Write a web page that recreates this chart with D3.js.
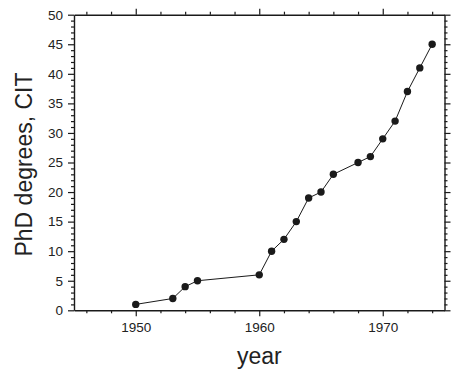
<!DOCTYPE html>
<html><head><meta charset="utf-8">
<script src="https://cdn.jsdelivr.net/npm/d3@7"></script>
<style>body{margin:0;background:#fff}svg{display:block}text{font-family:"Liberation Sans",Arial,sans-serif;fill:#222}</style>
</head><body><svg id="c" width="463" height="377"></svg>
<script>
const years = [1950,1953,1954,1955,1960,1961,1962,1963,1964,1965,1966,1968,1969,1970,1971,1972,1973,1974];
const degrees = [1,2,4,5,6,10,12,15,19,20,23,25,26,29,32,37,41,45];
const xTickLabels = [1950,1960,1970];
const yTickLabels = [0,5,10,15,20,25,30,35,40,45,50];
const xTitle = "year", yTitle = "PhD degrees, CIT";

const svg = d3.select("#c");
const L=74, R=444.5, T=14.7, B=310.3;
const x = d3.scaleLinear().domain([1945,1975]).range([L,R]);
const y = d3.scaleLinear().domain([0,50]).range([B,T]);
const col="#1a1a1a";

function minorX(){ return d3.range(1946,1975,2).filter(v=>v%10!==0); }
function minorY(){ return d3.range(0,51,1).filter(v=>v%5!==0); }

// bottom axis
const gb = svg.append("g").attr("transform",`translate(0,${B})`);
gb.call(d3.axisBottom(x).tickValues(xTickLabels).tickFormat(d3.format("d")).tickSize(6).tickSizeOuter(0).tickPadding(6));
gb.append("g").call(d3.axisBottom(x).tickValues(minorX()).tickFormat("").tickSize(3).tickSizeOuter(0)).select(".domain").remove();
// top axis
const gt = svg.append("g").attr("transform",`translate(0,${T})`);
gt.call(d3.axisTop(x).tickValues(xTickLabels).tickFormat("").tickSize(6).tickSizeOuter(0));
gt.append("g").call(d3.axisTop(x).tickValues(minorX()).tickFormat("").tickSize(3).tickSizeOuter(0)).select(".domain").remove();
// left axis
const gl = svg.append("g").attr("transform",`translate(${L},0)`);
gl.call(d3.axisLeft(y).tickValues(yTickLabels).tickFormat(d3.format("d")).tickSize(6).tickSizeOuter(0).tickPadding(5));
gl.append("g").call(d3.axisLeft(y).tickValues(minorY()).tickFormat("").tickSize(3).tickSizeOuter(0)).select(".domain").remove();
// right axis
const gr = svg.append("g").attr("transform",`translate(${R},0)`);
gr.call(d3.axisRight(y).tickValues(yTickLabels).tickFormat("").tickSize(6).tickSizeOuter(0));
gr.append("g").call(d3.axisRight(y).tickValues(minorY()).tickFormat("").tickSize(3).tickSizeOuter(0)).select(".domain").remove();

svg.selectAll(".domain").attr("stroke",col).attr("stroke-width",1.4);
svg.selectAll(".tick line").attr("stroke",col).attr("stroke-width",1.2);
svg.selectAll(".tick text").attr("font-size",13.5).attr("font-family","Liberation Sans, Arial, sans-serif").attr("fill","#222");

const data = years.map((v,i)=>({year:v,val:degrees[i]}));
svg.append("path").datum(data)
  .attr("d",d3.line().x(d=>x(d.year)).y(d=>y(d.val)))
  .attr("fill","none").attr("stroke",col).attr("stroke-width",1);
svg.selectAll("circle.pt").data(data).join("circle").attr("class","pt")
  .attr("cx",d=>x(d.year)).attr("cy",d=>y(d.val)).attr("r",3.7).attr("fill",col);

svg.append("text").attr("x",(L+R)/2).attr("y",364).attr("text-anchor","middle")
  .attr("font-size",23).text(xTitle);
svg.append("text").attr("transform",`translate(32,${(T+B)/2+2}) rotate(-90)`).attr("text-anchor","middle")
  .attr("font-size",23).text(yTitle);
</script></body></html>
